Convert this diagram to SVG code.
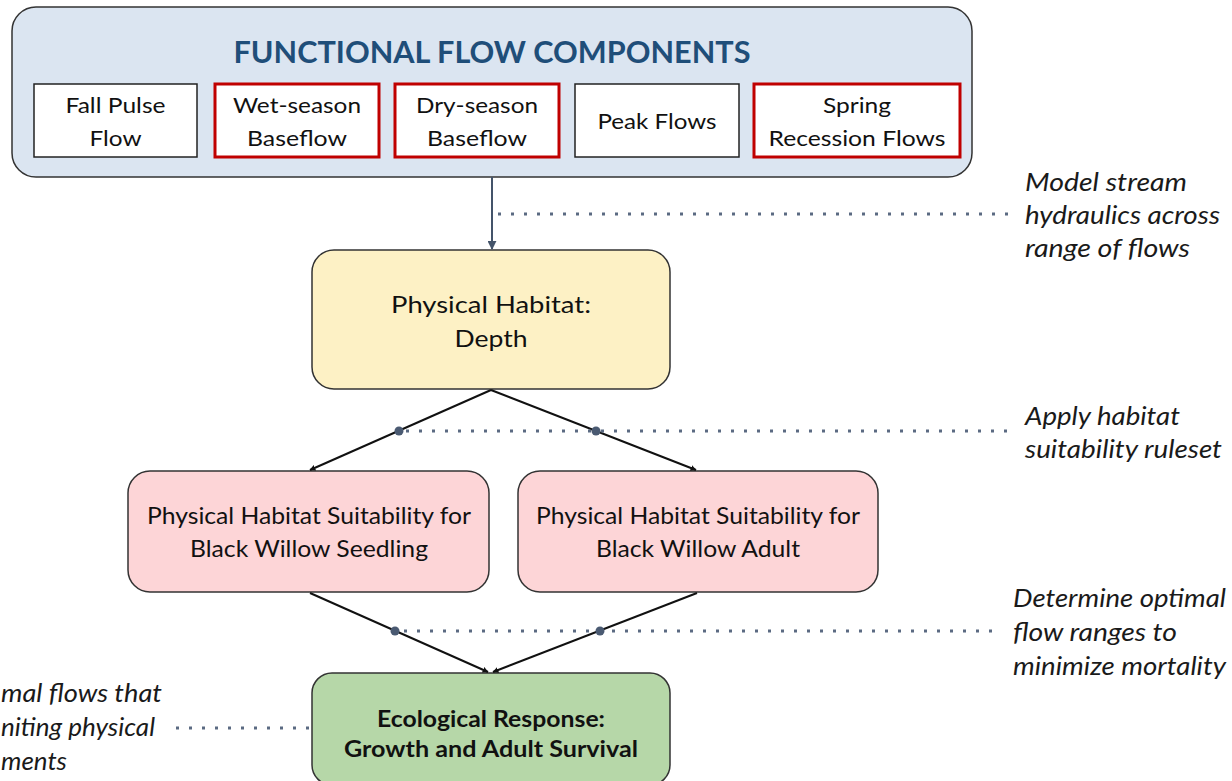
<svg xmlns="http://www.w3.org/2000/svg" width="1232" height="781" viewBox="0 0 1232 781">
<defs>
<style>
.t{font-family:Lato,"Open Sans","Liberation Sans",sans-serif;fill:#111;}
.c{text-anchor:middle;}
.sub{font-size:22px;}
.main{font-size:23px;}
.b{font-weight:bold;}
.it{font-style:italic;font-size:25px;fill:#1a1a1a;}
.box{stroke:#333;stroke-width:1.5;}
.wbox{fill:#fff;stroke:#222;stroke-width:1.5;}
.rbox{fill:#fff;stroke:#c00000;stroke-width:3;}
.arrow{stroke:#111;stroke-width:2;fill:none;marker-end:url(#ah);}
.dot{fill:#4a5a72;}
.dotted{stroke:#5b6a82;stroke-width:3;stroke-dasharray:3 10;fill:none;}
</style>
<marker id="ah" viewBox="0 0 10 10" refX="9" refY="5" markerWidth="6" markerHeight="6" orient="auto" markerUnits="userSpaceOnUse">
<path d="M0,0 L10,5 L0,10 z" fill="#111"/>
</marker>
<marker id="ahs" viewBox="0 0 10 10" refX="9" refY="5" markerWidth="9" markerHeight="9" orient="auto" markerUnits="userSpaceOnUse">
<path d="M0,0 L10,5 L0,10 z" fill="#44546a"/>
</marker>
</defs>
<rect width="1232" height="781" fill="#fff"/>

<g id="functional-flow-components">
<rect x="12" y="7" width="960" height="170" rx="24" fill="#dbe5f1" class="box"/>
<text class="t c b" x="492" y="63" font-size="31" style="fill:#1f4e79" textLength="517" lengthAdjust="spacingAndGlyphs">FUNCTIONAL FLOW COMPONENTS</text>
</g>
<g id="fall-pulse-flow">
<rect x="34" y="84" width="163" height="73" class="wbox"/>
<text class="t c sub" x="115.5" y="113" textLength="100" lengthAdjust="spacingAndGlyphs">Fall Pulse</text>
<text class="t c sub" x="115.5" y="146" textLength="52" lengthAdjust="spacingAndGlyphs">Flow</text>
</g>
<g id="wet-season-baseflow">
<rect x="215" y="84" width="164" height="73" class="rbox"/>
<text class="t c sub" x="297" y="113" textLength="128" lengthAdjust="spacingAndGlyphs">Wet-season</text>
<text class="t c sub" x="297" y="146" textLength="100" lengthAdjust="spacingAndGlyphs">Baseflow</text>
</g>
<g id="dry-season-baseflow">
<rect x="395" y="84" width="164" height="73" class="rbox"/>
<text class="t c sub" x="477" y="113" textLength="122" lengthAdjust="spacingAndGlyphs">Dry-season</text>
<text class="t c sub" x="477" y="146" textLength="100" lengthAdjust="spacingAndGlyphs">Baseflow</text>
</g>
<g id="peak-flows">
<rect x="575" y="84" width="164" height="73" class="wbox"/>
<text class="t c sub" x="657" y="129" textLength="119" lengthAdjust="spacingAndGlyphs">Peak Flows</text>
</g>
<g id="spring-recession-flows">
<rect x="754" y="84" width="206" height="73" class="rbox"/>
<text class="t c sub" x="857" y="113" textLength="68" lengthAdjust="spacingAndGlyphs">Spring</text>
<text class="t c sub" x="857" y="146" textLength="177" lengthAdjust="spacingAndGlyphs">Recession Flows</text>
</g>

<g id="physical-habitat-depth">
<rect x="312" y="250" width="358" height="139" rx="22" fill="#fdf1c5" class="box"/>
<text class="t c main" x="491" y="313" textLength="200" lengthAdjust="spacingAndGlyphs">Physical Habitat:</text>
<text class="t c main" x="491" y="347" textLength="73" lengthAdjust="spacingAndGlyphs">Depth</text>
</g>

<g id="suitability-seedling">
<rect x="128" y="471" width="361" height="121" rx="22" fill="#fdd5d7" class="box"/>
<text class="t c main" x="309" y="524" textLength="324" lengthAdjust="spacingAndGlyphs">Physical Habitat Suitability for</text>
<text class="t c main" x="309" y="557" textLength="238" lengthAdjust="spacingAndGlyphs">Black Willow Seedling</text>
</g>
<g id="suitability-adult">
<rect x="518" y="471" width="360" height="121" rx="22" fill="#fdd5d7" class="box"/>
<text class="t c main" x="698" y="524" textLength="324" lengthAdjust="spacingAndGlyphs">Physical Habitat Suitability for</text>
<text class="t c main" x="698" y="557" textLength="204" lengthAdjust="spacingAndGlyphs">Black Willow Adult</text>
</g>

<g id="ecological-response">
<rect x="312" y="673" width="358" height="112" rx="20" fill="#b6d7a8" class="box"/>
<text class="t c main b" x="491" y="727" textLength="228" lengthAdjust="spacingAndGlyphs">Ecological Response:</text>
<text class="t c main b" x="491" y="757" textLength="294" lengthAdjust="spacingAndGlyphs">Growth and Adult Survival</text>
</g>

<g id="annotations">
<text class="t it" x="1025" y="191" textLength="162" lengthAdjust="spacingAndGlyphs">Model stream</text>
<text class="t it" x="1025" y="224" textLength="195" lengthAdjust="spacingAndGlyphs">hydraulics across</text>
<text class="t it" x="1025" y="257" textLength="165" lengthAdjust="spacingAndGlyphs">range of flows</text>
<text class="t it" x="1025" y="425" textLength="155" lengthAdjust="spacingAndGlyphs">Apply habitat</text>
<text class="t it" x="1025" y="458" textLength="197" lengthAdjust="spacingAndGlyphs">suitability ruleset</text>
<text class="t it" x="1013" y="607" textLength="213" lengthAdjust="spacingAndGlyphs">Determine optimal</text>
<text class="t it" x="1013" y="641" textLength="164" lengthAdjust="spacingAndGlyphs">flow ranges to</text>
<text class="t it" x="1013" y="675" textLength="213" lengthAdjust="spacingAndGlyphs">minimize mortality</text>
<text class="t it" x="1" y="702" textLength="161" lengthAdjust="spacingAndGlyphs">mal flows that</text>
<text class="t it" x="1" y="736" textLength="154" lengthAdjust="spacingAndGlyphs">niting physical</text>
<text class="t it" x="1" y="770" textLength="66" lengthAdjust="spacingAndGlyphs">ments</text>
</g>

<g id="connectors">
<line x1="492" y1="177" x2="492" y2="249" stroke="#44546a" stroke-width="2" marker-end="url(#ahs)"/>
<line x1="491" y1="390" x2="310" y2="470" class="arrow"/>
<line x1="491" y1="390" x2="696" y2="470" class="arrow"/>
<line x1="310" y1="593" x2="488" y2="672" class="arrow"/>
<line x1="697" y1="593" x2="493" y2="672" class="arrow"/>
<line x1="498" y1="214" x2="1008" y2="214" class="dotted"/>
<line x1="406" y1="431" x2="1012" y2="431" class="dotted"/>
<line x1="404" y1="631" x2="1000" y2="631" class="dotted"/>
<line x1="176" y1="728" x2="310" y2="728" class="dotted"/>
<circle cx="399" cy="431" r="4.5" class="dot"/>
<circle cx="596" cy="431" r="4.5" class="dot"/>
<circle cx="395" cy="631" r="4.5" class="dot"/>
<circle cx="600" cy="631" r="4.5" class="dot"/>
</g>
</svg>
